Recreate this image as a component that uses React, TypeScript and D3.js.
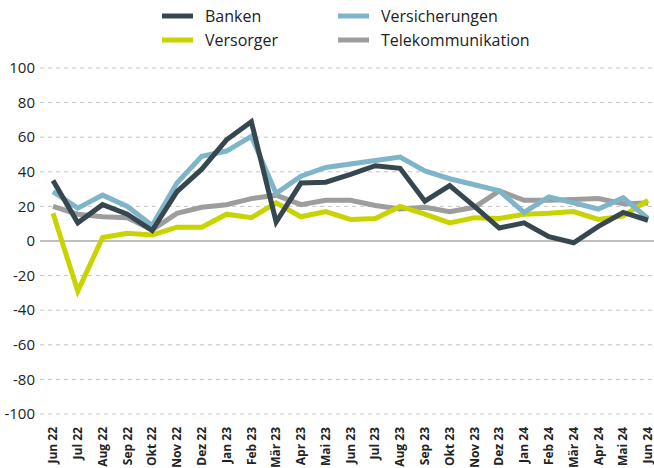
import React from "react";
import * as d3 from "d3";

const months = [
  "Jun 22", "Jul 22", "Aug 22", "Sep 22", "Okt 22", "Nov 22", "Dez 22",
  "Jan 23", "Feb 23", "Mär 23", "Apr 23", "Mai 23", "Jun 23", "Jul 23",
  "Aug 23", "Sep 23", "Okt 23", "Nov 23", "Dez 23", "Jan 24", "Feb 24",
  "Mär 24", "Apr 24", "Mai 24", "Jun 24",
];

const banken = [35, 10.5, 21, 15.5, 6, 28.5, 41.5, 58.5, 69, 11, 33.5, 34, 38.5, 43.5, 42, 23, 32, 20, 7.5, 10.5, 2.5, -1, 8.5, 16.5, 12];
const versicherungen = [28.5, 19, 26.5, 20, 9, 33.5, 49, 52, 60.5, 27.5, 37.5, 42.5, 44.5, 46.5, 48.5, 40.5, 36, 32.5, 29, 16.5, 25.5, 22, 18.5, 25, 13];
const versorger = [16, -29, 2, 4.5, 3.5, 8, 8, 15.5, 13.5, 22, 14, 17, 12.5, 13, 20, 15.5, 10.5, 13.5, 13, 15.5, 16, 17, 12.5, 14.5, 23.5];
const telekom = [20, 15.5, 14, 13.5, 6.5, 16, 19.5, 21, 24.5, 26.5, 21, 23.5, 23.5, 20.5, 18.5, 19.5, 17, 19.5, 29, 23.5, 23.5, 24, 24.5, 21.5, 22];

const yTicks = [100, 80, 60, 40, 20, 0, -20, -40, -60, -80, -100];

const series = [
  { name: "Telekommunikation", color: "#9d9d9d", values: telekom },
  { name: "Versorger", color: "#c8d400", values: versorger },
  { name: "Versicherungen", color: "#7fb5c8", values: versicherungen },
  { name: "Banken", color: "#37474f", values: banken },
];

const legend = [
  { name: "Banken", color: "#37474f", col: 0, row: 0 },
  { name: "Versicherungen", color: "#7fb5c8", col: 1, row: 0 },
  { name: "Versorger", color: "#c8d400", col: 0, row: 1 },
  { name: "Telekommunikation", color: "#9d9d9d", col: 1, row: 1 },
];

export default function App() {
  const w = 654;
  const h = 468;
  const font = "'Open Sans', 'DejaVu Sans', sans-serif";

  const x = d3.scalePoint<string>().domain(months).range([53, 648]);
  const y = d3.scaleLinear().domain([-100, 100]).range([414, 68]);

  const line = d3
    .line<number>()
    .x((_, i) => x(months[i]) as number)
    .y((d) => y(d));

  return (
    <svg
      width={w}
      height={h}
      style={{ position: "absolute", left: 0, top: 0, background: "#fff" }}
    >
      {legend.map((l) => (
        <g key={l.name} transform={`translate(${162 + l.col * 176},${16 + l.row * 24})`}>
          <line x1={0} x2={31} y1={0} y2={0} stroke={l.color} strokeWidth={5} />
          <text x={43} y={0} dy="0.35em" fontSize={16} fontFamily={font} fill="#222">
            {l.name}
          </text>
        </g>
      ))}

      {yTicks.map((t) => (
        <g key={t}>
          <line
            x1={40}
            x2={654}
            y1={y(t)}
            y2={y(t)}
            stroke={t === 0 ? "#aaa" : "#c4c4c4"}
            strokeWidth={t === 0 ? 1.5 : 1}
            strokeDasharray={t === 0 ? undefined : "4,4"}
          />
          <text
            x={35}
            y={y(t)}
            dy="0.35em"
            textAnchor="end"
            fontSize={15}
            fontFamily={font}
            fill="#222"
          >
            {t}
          </text>
        </g>
      ))}

      {series.map((s) => (
        <path
          key={s.name}
          d={line(s.values) || ""}
          fill="none"
          stroke={s.color}
          strokeWidth={5}
          strokeLinejoin="miter"
        />
      ))}

      {months.map((m) => (
        <text
          key={m}
          transform={`translate(${x(m)},${427}) rotate(-90)`}
          dy="0.35em"
          textAnchor="end"
          fontSize={12}
          fontWeight="bold"
          fontFamily={font}
          fill="#222"
        >
          {m}
        </text>
      ))}
    </svg>
  );
}
